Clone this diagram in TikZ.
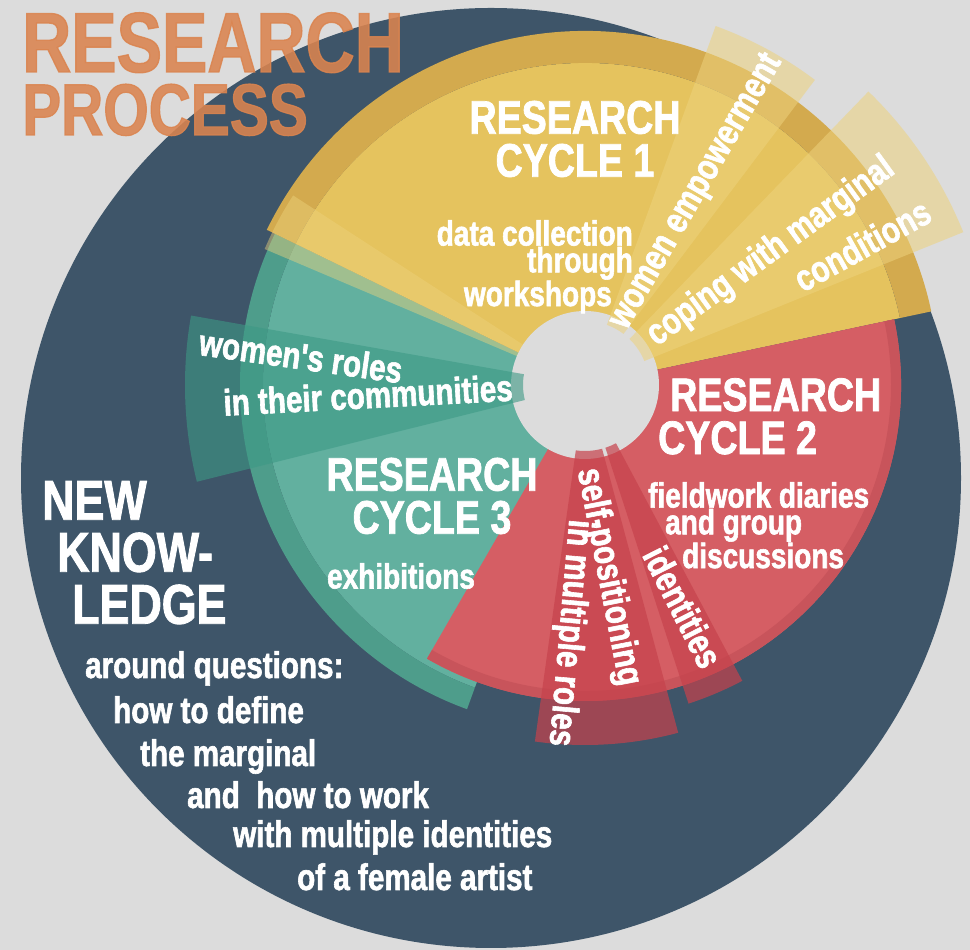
\documentclass[tikz,border=0pt]{standalone}
\usepackage{fontspec}
\newfontfamily\condfont[FakeStretch=0.8, BoldFeatures={FakeBold=1.6}]{Liberation Sans}
\usetikzlibrary{positioning}

\definecolor{bggrey}{HTML}{DCDCDC}
\definecolor{navy}{HTML}{3E5569}
\definecolor{sun}{HTML}{E5C35E}
\definecolor{ochre}{HTML}{D3AA4E}
\definecolor{sunlight}{HTML}{EDD27C}
\definecolor{tealbody}{HTML}{62B09F}
\definecolor{tealrim}{HTML}{4E9D8B}
\definecolor{tealstrip}{HTML}{3D9985}
\definecolor{redbody}{HTML}{D55E64}
\definecolor{redrim}{HTML}{C8545B}
\definecolor{redstrip}{HTML}{C6424C}
\definecolor{titleorange}{HTML}{DA844F}

% ring segment around (ctr): start angle, end angle, inner radius, outer radius
\newcommand{\ringpart}[4]{([shift={(#1:#3)}]ctr) arc[start angle=#1, end angle=#2, radius=#3] -- ([shift={(#2:#4)}]ctr) arc[start angle=#2, end angle=#1, radius=#4] -- cycle}

\begin{document}
\begin{tikzpicture}[x=1pt, y=1pt,
    title/.style={anchor=base west, inner sep=0pt, text=titleorange, text opacity=0.88},
    heading/.style={text=white, inner sep=0pt, align=center, font=\condfont\bfseries\fontsize{47}{43}\selectfont},
    note/.style={text=white, inner sep=0pt, font=\condfont\bfseries\fontsize{35}{23.5}\selectfont},
    stripnote/.style={text=white, inner sep=0pt, font=\condfont\bfseries\fontsize{37}{37}\selectfont},
    question/.style={text=white, inner sep=0pt, anchor=base west, font=\condfont\bfseries\fontsize{37}{37}\selectfont}]

    \useasboundingbox (0,0) rectangle (970,950);
    \fill[bggrey] (0,0) rectangle (970,950);
    \coordinate (disc) at (491,472);
    \coordinate (ctr) at (585,565);
    \fill[navy] (disc) circle[radius=470];

    % the three cycles
    \fill[tealbody] \ringpart{154}{250}{1}{322};
    \fill[tealrim] \ringpart{154}{250}{322}{345};
    \fill[sun] \ringpart{12}{154}{1}{322};
    \fill[ochre] \ringpart{12}{154}{322}{354};
    \fill[redbody] \ringpart{240}{372}{1}{316};
    \fill[redrim] \ringpart{240}{372}{306}{316};
    \fill[sunlight, fill opacity=0.45] \ringpart{147}{157}{62}{348};

    \fill[bggrey] (ctr) circle[radius=74];

    % topic strips
    \fill[sunlight, fill opacity=0.55] \ringpart{53}{70}{64}{382};
    \fill[sunlight, fill opacity=0.55] \ringpart{22}{46}{64}{408};
    \fill[tealstrip, fill opacity=0.6] \ringpart{170}{194}{62}{400};
    \fill[redstrip, fill opacity=0.7] \ringpart{262}{285}{66}{360};
    \fill[redstrip, fill opacity=0.7] \ringpart{288}{298}{66}{335};

    % title
    \node[title, font=\condfont\bfseries\fontsize{85}{85}\selectfont] (research) at (22,878) {RESEARCH};
    \node[title, font=\condfont\bfseries\fontsize{73}{73}\selectfont] (process) at (22,815) {PROCESS};

    % cycle 1
    \node[heading] (cycle1) at (575,811) {RESEARCH\\CYCLE 1};
    \node[note, align=right, anchor=north east] (collect) at (633,730) {data collection\\through\hspace*{10pt}\\workshops\hspace*{21pt}};
    \node[stripnote, rotate=60] (empower) at (697,758) {women empowerment};
    \node[stripnote, rotate=36] (coping) at (771,698) {coping with marginal};
    \node[stripnote, rotate=29] (conditions) at (862,705) {conditions};

    % cycle 2
    \node[heading, align=left, anchor=north west] (cycle2) at (658,572) {\hspace*{12pt}RESEARCH\\CYCLE 2};
    \node[note, align=left, anchor=north west] (fieldwork) at (648,468) {fieldwork diaries\\\hspace*{17pt}and group\\\hspace*{34pt}discussions};
    \node[stripnote, rotate=-63] (identities) at (683,343) {identities};
    \node[stripnote, rotate=-79] (selfpos) at (608,373) {self-positioning};
    \node[stripnote, rotate=-95] (roles) at (569,317) {in multiple roles};

    % cycle 3
    \node[heading] (cycle3) at (432,454) {RESEARCH\\CYCLE 3};
    \node[note] (exhibit) at (401,374) {exhibitions};
    \node[stripnote, rotate=-8] (womenroles) at (301,594) {women's roles};
    \node[stripnote, rotate=3] (communities) at (368,555) {in their communities};

    % new knowledge
    \node[anchor=north west, align=left, text=white, inner sep=0pt, font=\condfont\bfseries\fontsize{56}{52}\selectfont] (newknow) at (42,469) {NEW\\\hspace*{15pt}KNOW-\\\hspace*{30pt}LEDGE};
    \node[question] (q1) at (85,272) {around questions:};
    \node[question] (q2) at (113,227) {how to define};
    \node[question] (q3) at (140,184) {the marginal};
    \node[question] (q4) at (187,142) {and\ \ how to work};
    \node[question] (q5) at (233,103) {with multiple identities};
    \node[question] (q6) at (297,60) {of a female artist};
\end{tikzpicture}
\end{document}
